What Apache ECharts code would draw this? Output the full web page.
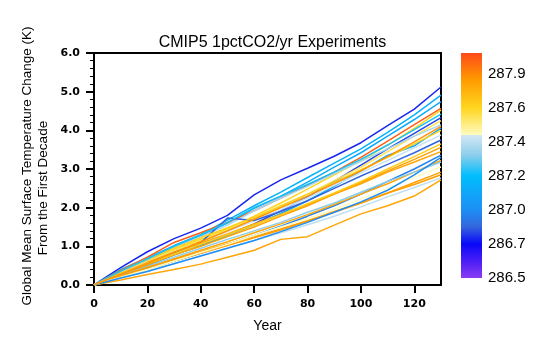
<!DOCTYPE html>
<html>
<head>
<meta charset="utf-8">
<script src="https://cdn.jsdelivr.net/npm/echarts@6/dist/echarts.min.js"></script>
<style>
  html, body { margin: 0; padding: 0; background: #fff; }
  #chart { width: 554px; height: 341px; }
</style>
</head>
<body>
<div id="chart"></div>
<script>
// Decade midpoints (years since start of 1pctCO2 run)
const years = [0, 10, 20, 30, 40, 50, 60, 70, 80, 90, 100, 110, 120, 130];

// Base-state global mean temperature (K) of each model, used for line colour
const baseTemps = [
  286.75, 287.15, 287.12, 288.02, 287.60, 286.80, 287.55, 287.36,
  287.10, 287.42, 286.85, 287.82, 287.80, 286.95, 287.80, 287.32,
  287.82, 287.84, 287.40, 287.80, 287.62, 287.22, 287.64, 287.44,
  287.00, 287.86
];

// Temperature change (K) relative to the first decade, one row per model
const warming = [
  [0, 0.45, 0.86, 1.20, 1.47, 1.80, 2.33, 2.72, 3.02, 3.33, 3.68, 4.12, 4.55, 5.12],
  [0, 0.40, 0.70, 1.02, 1.30, 1.68, 2.05, 2.40, 2.78, 3.15, 3.52, 3.95, 4.40, 4.91],
  [0, 0.35, 0.62, 0.98, 1.28, 1.60, 1.98, 2.30, 2.66, 3.05, 3.42, 3.85, 4.28, 4.74],
  [0, 0.38, 0.72, 1.10, 1.35, 1.62, 1.92, 2.25, 2.58, 2.92, 3.30, 3.72, 4.15, 4.57],
  [0, 0.30, 0.62, 0.92, 1.18, 1.45, 1.78, 2.12, 2.48, 2.85, 3.22, 3.62, 4.05, 4.52],
  [0, 0.28, 0.52, 0.78, 1.02, 1.30, 1.58, 1.92, 2.28, 2.68, 3.10, 3.52, 3.92, 4.33],
  [0, 0.32, 0.60, 0.90, 1.15, 1.42, 1.72, 2.02, 2.35, 2.70, 3.05, 3.45, 3.85, 4.25],
  [0, 0.34, 0.66, 0.98, 1.25, 1.55, 1.92, 2.25, 2.55, 2.88, 3.20, 3.52, 3.85, 4.14],
  [0, 0.25, 0.50, 0.78, 1.02, 1.28, 1.55, 1.85, 2.18, 2.55, 2.95, 3.35, 3.60, 4.06],
  [0, 0.30, 0.58, 0.85, 1.10, 1.38, 1.66, 1.95, 2.25, 2.58, 2.90, 3.22, 3.55, 3.88],
  [0, 0.28, 0.55, 0.82, 1.10, 1.73, 1.67, 1.90, 2.18, 2.50, 2.82, 3.12, 3.42, 3.75],
  [0, 0.25, 0.52, 0.78, 1.00, 1.25, 1.50, 1.78, 2.05, 2.35, 2.65, 2.95, 3.25, 3.56],
  [0, 0.30, 0.58, 0.85, 1.08, 1.32, 1.58, 1.82, 2.08, 2.35, 2.62, 2.92, 3.18, 3.45],
  [0, 0.22, 0.42, 0.62, 0.82, 1.05, 1.28, 1.52, 1.78, 2.05, 2.35, 2.68, 3.00, 3.36],
  [0, 0.22, 0.45, 0.68, 0.90, 1.12, 1.35, 1.58, 1.82, 2.08, 2.35, 2.62, 2.92, 3.22],
  [0, 0.24, 0.48, 0.72, 0.95, 1.18, 1.40, 1.62, 1.88, 2.12, 2.40, 2.68, 2.92, 3.18],
  [0, 0.20, 0.40, 0.62, 0.82, 1.02, 1.22, 1.42, 1.65, 1.90, 2.12, 2.38, 2.65, 2.92],
  [0, 0.24, 0.46, 0.66, 0.86, 1.06, 1.25, 1.45, 1.66, 1.88, 2.12, 2.38, 2.60, 2.85],
  [0, 0.18, 0.36, 0.56, 0.76, 0.96, 1.15, 1.35, 1.56, 1.78, 2.02, 2.28, 2.52, 2.77],
  [0, 0.13, 0.27, 0.40, 0.54, 0.72, 0.90, 1.18, 1.25, 1.55, 1.84, 2.05, 2.30, 2.72],
  [0, 0.35, 0.68, 0.95, 1.22, 1.48, 1.75, 2.05, 2.35, 2.65, 2.98, 3.30, 3.65, 4.00],
  [0, 0.36, 0.68, 1.00, 1.30, 1.62, 2.00, 2.30, 2.60, 2.92, 3.25, 3.62, 4.02, 4.42],
  [0, 0.30, 0.55, 0.80, 1.05, 1.30, 1.55, 1.82, 2.10, 2.38, 2.68, 3.00, 3.32, 3.65],
  [0, 0.20, 0.40, 0.62, 0.84, 1.05, 1.28, 1.50, 1.72, 1.96, 2.22, 2.50, 2.78, 3.05],
  [0, 0.18, 0.35, 0.55, 0.75, 0.95, 1.15, 1.38, 1.62, 1.88, 2.15, 2.45, 2.85, 3.30],
  [0, 0.28, 0.55, 0.85, 1.12, 1.40, 1.70, 2.00, 2.30, 2.62, 2.95, 3.32, 3.70, 4.10]
];

// Axis tick values
const yearTicks = [0, 20, 40, 60, 80, 100, 120];
// Colour-bar labels, one per equally spaced box edge
const cbarLabels = ['286.5', '286.7', '287.0', '287.2', '287.4', '287.6', '287.9'];
const cbarTemps = [286.5, 286.7, 287.0, 287.2, 287.4, 287.6, 287.9];
const cbarTop = 6.6;           // colour bar runs a bit past the last label
const cbarSplit = 4.18;        // blue/yellow seam of the palette

// Palette along the colour-bar position axis
const paletteStops = [
  [0.0, '#8a3cf2'],
  [0.5, '#4a1ef6'],
  [1.0, '#0808f8'],
  [1.5, '#3466dc'],
  [2.0, '#1e8ef6'],
  [3.0, '#00befc'],
  [3.6, '#8ccdec'],
  [cbarSplit, '#d2e7f4'],
  [cbarSplit + 0.0001, '#fffcc4'],
  [5.0, '#ffd51e'],
  [5.8, '#ff9c00'],
  [cbarTop, '#ff4a1a']
];

function hexToRgb(h) {
  return [parseInt(h.slice(1, 3), 16), parseInt(h.slice(3, 5), 16), parseInt(h.slice(5, 7), 16)];
}
function colourAt(pos) {
  if (pos <= paletteStops[0][0]) return paletteStops[0][1];
  for (let i = 1; i < paletteStops.length; i++) {
    if (pos <= paletteStops[i][0]) {
      const [p0, c0] = paletteStops[i - 1];
      const [p1, c1] = paletteStops[i];
      const t = (pos - p0) / (p1 - p0);
      const a = hexToRgb(c0), b = hexToRgb(c1);
      const m = a.map((v, k) => Math.round(v + (b[k] - v) * t));
      return 'rgb(' + m.join(',') + ')';
    }
  }
  return paletteStops[paletteStops.length - 1][1];
}
// Temperature -> colour-bar position (labels are evenly spaced, values are not)
function tempToPos(T) {
  const n = cbarTemps.length;
  if (T <= cbarTemps[0]) return 0;
  for (let i = 1; i < n; i++) {
    if (T <= cbarTemps[i]) {
      return i - 1 + (T - cbarTemps[i - 1]) / (cbarTemps[i] - cbarTemps[i - 1]);
    }
  }
  const slope = cbarTemps[n - 1] - cbarTemps[n - 2];
  return Math.min(cbarTop, n - 1 + (T - cbarTemps[n - 1]) / slope);
}

const lineSeries = warming.map((row, i) => ({
  type: 'line',
  xAxisIndex: 0,
  yAxisIndex: 0,
  data: row.map((v, k) => [years[k], v]),
  showSymbol: false,
  silent: true,
  lineStyle: { width: 1.5, color: colourAt(tempToPos(baseTemps[i])) },
  z: 2
}));

const gradStops = paletteStops.map(([p, c]) => ({ offset: p / cbarTop, color: c }));

const chart = echarts.init(document.getElementById('chart'), null, { renderer: 'canvas' });
const tickFont = { fontFamily: 'DejaVu Sans', fontWeight: 'bold', fontSize: 11, color: '#000' };

chart.setOption({
  animation: false,
  backgroundColor: '#fff',
  title: {
    text: 'CMIP5 1pctCO2/yr Experiments',
    left: 267.5,
    textAlign: 'center',
    top: 30,
    textStyle: { fontFamily: 'Liberation Sans', fontWeight: 'normal', fontSize: 16, color: '#000' }
  },
  grid: [
    { left: 94, top: 53, width: 347, height: 232, show: true, borderColor: '#000', borderWidth: 2, backgroundColor: 'transparent' },
    { left: 461, top: 53, width: 21, height: 225 }
  ],
  xAxis: [
    {
      gridIndex: 0, type: 'value', min: 0, max: 130, interval: 20,
      name: 'Year', nameLocation: 'middle', nameGap: 34,
      nameTextStyle: { fontFamily: 'Liberation Sans', fontSize: 14, color: '#000' },
      axisLine: { show: true, lineStyle: { color: '#000', width: 2 } },
      axisTick: { show: true, inside: false, length: 8, lineStyle: { color: '#000', width: 2 }, customValues: yearTicks },
      axisLabel: Object.assign({ margin: 14, customValues: yearTicks }, tickFont),
      splitLine: { show: false }
    },
    { gridIndex: 1, type: 'category', data: [''], show: false }
  ],
  yAxis: [
    {
      gridIndex: 0, type: 'value', min: 0, max: 6, interval: 1,
      axisLine: { show: true, lineStyle: { color: '#000', width: 2 } },
      axisTick: { show: true, inside: false, length: 8, lineStyle: { color: '#000', width: 2 } },
      minorTick: { show: true, splitNumber: 5, length: 4, lineStyle: { color: '#000', width: 1 } },
      axisLabel: Object.assign({ margin: 14, formatter: v => v.toFixed(1) }, tickFont),
      splitLine: { show: false }
    },
    {
      gridIndex: 1, type: 'value', min: 0, max: cbarTop, position: 'right',
      axisLine: { show: false }, axisTick: { show: false }, splitLine: { show: false },
      axisLabel: {
        margin: 6, customValues: [0, 1, 2, 3, 4, 5, 6],
        formatter: v => cbarLabels[Math.round(v)],
        fontFamily: 'Liberation Sans', fontSize: 15, color: '#000'
      }
    }
  ],
  graphic: [
    {
      type: 'text', x: 27, y: 166, rotation: Math.PI / 2,
      style: { text: 'Global Mean Surface Temperature Change (K)', font: '13.5px "Liberation Sans"', fill: '#000', textAlign: 'center', textVerticalAlign: 'middle' }
    },
    {
      type: 'text', x: 43, y: 188, rotation: Math.PI / 2,
      style: { text: 'From the First Decade', font: '13.5px "Liberation Sans"', fill: '#000', textAlign: 'center', textVerticalAlign: 'middle' }
    }
  ],
  series: lineSeries.concat([{
    type: 'bar',
    xAxisIndex: 1,
    yAxisIndex: 1,
    data: [cbarTop],
    barWidth: '100%',
    silent: true,
    itemStyle: { color: new echarts.graphic.LinearGradient(0, 1, 0, 0, gradStops) }
  }])
});
</script>
</body>
</html>
